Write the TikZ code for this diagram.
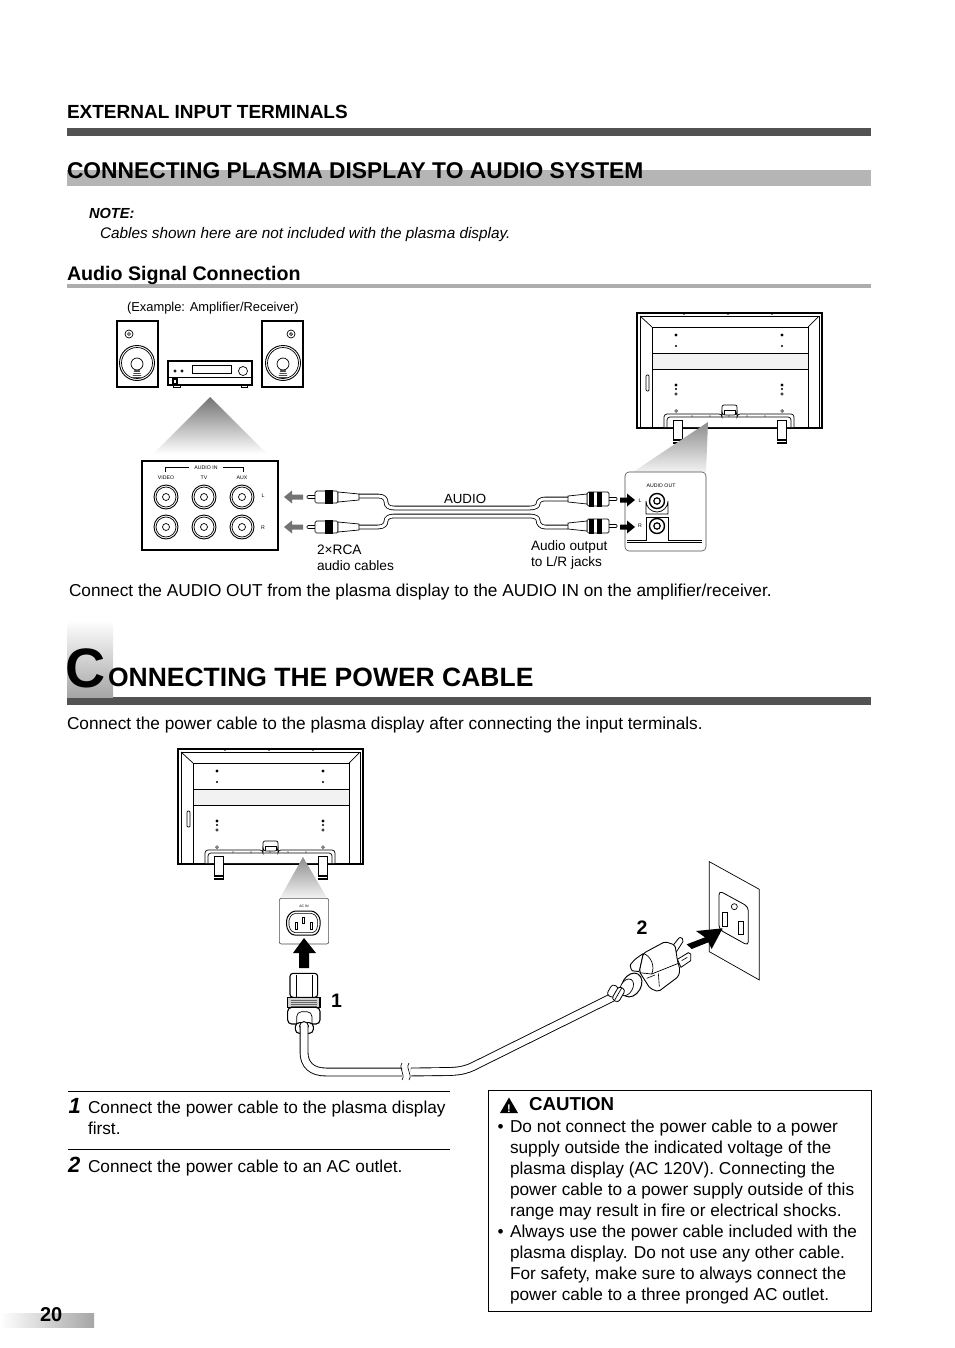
\documentclass[tikz,border=0pt]{standalone}
\usepackage{fontspec}
\setmainfont{Liberation Sans}
\usetikzlibrary{shadings}
\definecolor{bardark}{gray}{0.32}
\definecolor{barlight}{gray}{0.71}
\definecolor{barmid}{gray}{0.68}
\tikzset{
 txt/.style={anchor=base west,inner sep=0pt,outer sep=0pt,text=black},
 ln/.style={draw=black,line width=0.7pt},
 thk/.style={draw=black,line width=1.1pt},
 wf/.style={fill=white},
 cablecore/.style={double=white,draw=black,line width=0.8pt,double distance=3pt},
 powercable/.style={double=white,draw=black,line width=0.9pt,double distance=7pt},
}
\newcommand{\tl}[6][]{\node[txt,#1] (#2) at (#3,#4) {\fontsize{#5}{#5}\selectfont #6};}
\newcommand{\dotat}[3]{\fill[black] (#1,#2) circle (#3);}
\newcommand{\ringat}[3]{\draw[line width=0.5pt,fill=white] (#1,#2) circle (#3);}
\newcommand{\tvback}[2]{%
\begin{scope}[shift={(#1,#2)}]
 \draw[thk,fill=white] (0,0) rectangle (185,115);
 \draw[ln] (3,3) rectangle (182,114);
 \draw[ln] (15,14) -- (15,114);
 \draw[ln] (171,14) -- (171,114);
 \draw[ln] (15,14) -- (171,14);
 \draw[ln] (3,3) -- (15,14);
 \draw[ln] (182,3) -- (171,14);
 \draw[ln,fill=black!5] (15,40) rectangle (171,56);
 \draw[ln,rounded corners=1pt] (9,62) rectangle (12,78);
 \foreach \sx in {39,145}{
  \dotat{\sx}{22}{1.6}\dotat{\sx}{33}{1.1}\dotat{\sx}{72}{1.6}\dotat{\sx}{76}{1.1}
  \ringat{\sx}{81}{1.3}\ringat{\sx}{98}{1.4}}
 \foreach \sx in {47,91,135}{\fill (\sx,1) circle (0.8);}
 \draw[ln,fill=white,rounded corners=2pt] (85,102) -- (85,92) -- (100,92) -- (100,102);
 \draw[ln] (87,102) -- (87,97) -- (98,97) -- (98,102);
 \draw[ln,fill=white,rounded corners=3pt] (27,114) -- (27,101) -- (85,101) -- (85,102) -- (100,102) -- (100,101) -- (157,101) -- (157,114);
 \draw[ln,rounded corners=3pt] (30,114) -- (30,104) -- (154,104) -- (154,114);
 \foreach \sx in {55,73,92,110,128}{\fill (\sx,103) circle (0.7);}
 \foreach \sx in {36,140}{
  \draw[ln,fill=white] (\sx,107) rectangle (\sx+9,126);
  \fill[black] (\sx-0.5,126) rectangle (\sx+9.5,131);
  \draw[white,line width=0.5pt] (\sx,128) -- (\sx+9,128);}
\end{scope}}
\newcommand{\speaker}[4]{%
 \draw[thk,fill=white] (#1,321) rectangle (#2,387);
 \draw[ln] (#3,334) circle (4); \draw[ln] (#3,334) circle (1.5);
 \draw[line width=0.9pt] (#4,363) circle (17.5); \draw[ln] (#4,363) circle (15.5);
 \draw[ln] (#4,364) circle (6);
 \fill[black!70] (#4-2.5,370) -- (#4+2.5,370) -- (#4+5,378) -- (#4-5,378) -- cycle;
 \foreach \yy in {372,374,376}{\draw[white,line width=0.4pt] (#4-5,\yy) -- (#4+5,\yy);}
}
\newcommand{\jackin}[2]{%
 \draw[line width=0.9pt] (#1,#2) circle (12);
 \draw[ln] (#1,#2) circle (10);
 \draw[ln] (#1,#2) circle (3.5);
}
\newcommand{\plugL}[2]{%
\begin{scope}[shift={(#1,#2)}]
 \draw[ln,fill=white,rounded corners=1pt] (0,-1.5) rectangle (9,1.5);
 \draw[ln,fill=white,rounded corners=1.5pt] (8,-6) rectangle (31,6);
 \fill[black] (18,-7) rectangle (26,7);
 \draw[ln,fill=white] (31,-5) -- (52,-3) -- (52,3) -- (31,5) -- cycle;
\end{scope}}
\newcommand{\plugR}[2]{%
\begin{scope}[shift={(#1,#2)}]
 \draw[ln,fill=white,rounded corners=1pt] (0,-1.5) rectangle (-10,1.5);
 \draw[ln,fill=white,rounded corners=1.5pt] (-8,-7) rectangle (-30,7);
 \fill[black] (-15,-7.5) rectangle (-20,7.5);
 \fill[black] (-23,-7.5) rectangle (-28,7.5);
 \draw[ln,fill=white] (-30,-5) -- (-49,-3) -- (-49,3) -- (-30,5) -- cycle;
\end{scope}}
% arrow: tail x, y, colour, total length (pointing to larger x)
\newcommand{\fatarrow}[4]{\fill[#3] (#1,#2-2.5) -- (#1+#4-8,#2-2.5) -- (#1+#4-8,#2-6.5) -- (#1+#4,#2) -- (#1+#4-8,#2+6.5) -- (#1+#4-8,#2+2.5) -- (#1,#2+2.5) -- cycle;}
\begin{document}
\begin{tikzpicture}[x=1pt,y=-1pt]
\useasboundingbox (0,0) rectangle (954,1348);
\fill[white] (0,0) rectangle (954,1348);
% header bars
\fill[bardark] (67,128) rectangle (871,136);
\fill[barlight] (67,170) rectangle (871,186);
\fill[barmid] (67,284) rectangle (871,288);
\fill[bardark] (67,697) rectangle (871,705);
\tl{h1}{67}{119}{19}{\bfseries EXTERNAL INPUT TERMINALS}
\tl{h2}{67}{178.5}{22.8}{\bfseries CONNECTING PLASMA DISPLAY TO AUDIO SYSTEM}
\tl{note}{89}{219}{14.6}{\bfseries\itshape NOTE:}
\tl{note2}{100}{239}{15.33}{\itshape Cables shown here are not included with the plasma display.}
\tl{h3}{67}{280}{19.65}{\bfseries Audio Signal Connection}
% top left equipment
\tl{ex}{127}{311}{12.9}{(Example: Amplifier/Receiver)}
\speaker{117}{158}{129}{137}
\speaker{262}{303}{291}{283}
\draw[thk,fill=white] (168,361) rectangle (252,385);
\draw[ln] (168,377) -- (252,377);
\draw[ln] (173,385) rectangle (180,387);
\draw[ln] (241,385) rectangle (247,387);
\draw[ln] (192,365) rectangle (231,373);
\draw[ln] (243,371) circle (4.5);
\draw[ln] (175,371) circle (1.2);
\draw[ln] (182,371) circle (1.2);
\draw[thk] (173,379) rectangle (177,384);
\shade[top color=black!55,bottom color=white] (210,397) -- (267,454) -- (153,454) -- cycle;
% audio in panel
\draw[thk,fill=white] (142,461) rectangle (278,550);
\tl[anchor=base]{ai}{206}{469}{5.2}{AUDIO IN}
\draw[ln] (165,472) -- (165,467) -- (189,467);
\draw[ln] (223,467) -- (243,467) -- (243,472);
\tl[anchor=base]{vid}{166}{479}{5.2}{VIDEO}
\tl[anchor=base]{tv}{204}{479}{5.2}{TV}
\tl[anchor=base]{aux}{242}{479}{5.2}{AUX}
\tl[anchor=base]{jl}{263}{497}{5.2}{L}
\tl[anchor=base]{jr}{263}{529}{5.2}{R}
\foreach \jx in {166,204,242}{\jackin{\jx}{497}\jackin{\jx}{527}}
% cables
\coordinate (cL1) at (359,496); \coordinate (cL2) at (359,527);
\coordinate (cR1) at (568,499); \coordinate (cR2) at (568,527);
\draw[cablecore] (cL1) -- (378,496) .. controls (384,496) and (386,499) .. (386,502) .. controls (386,506) and (389,508) .. (394,508) -- (530,508) .. controls (535,508) and (538,506) .. (538,504) .. controls (538,501) and (541,499) .. (545,499) -- (cR1);
\draw[cablecore] (cL2) -- (378,527) .. controls (384,527) and (386,524) .. (386,521) .. controls (386,518) and (389,516) .. (394,516) -- (530,516) .. controls (535,516) and (538,518) .. (538,520) .. controls (538,524) and (541,527) .. (545,527) -- (cR2);
\plugL{307}{497}\plugL{307}{527}
\plugR{617}{499}\plugR{617}{526}
\begin{scope}[shift={(606,0)},xscale=-1]\fatarrow{303}{497}{black!55}{19}\end{scope}
\begin{scope}[shift={(606,0)},xscale=-1]\fatarrow{303}{527}{black!55}{19}\end{scope}
\tl{audio}{444}{503}{13.3}{AUDIO}
\tl{rca1}{317}{554}{13.7}{2×RCA}
\tl{rca2}{317}{570}{13.7}{audio cables}
\tl{ao1}{531}{550}{13.6}{Audio output}
\tl{ao2}{531}{566}{13.6}{to L/R jacks}
% TV 1
\tvback{637}{313}
\shade[top color=black!45,bottom color=black!5] (708,422) -- (706,472) -- (633,472) -- cycle;
\draw[line width=0.6pt,black!70,fill=white,rounded corners=4pt] (625,472) rectangle (706,551);
\tl[anchor=base]{aout}{661}{487}{5.2}{AUDIO OUT}
\draw[ln] (646,514) -- (646,501) arc (180:0:11) -- (668,514) -- cycle;
\draw[ln] (646,517) -- (668,517);
\draw[ln] (646,517) -- (646,540) -- (627,540);
\draw[ln] (668,517) -- (668,540) -- (702,540);
\draw[ln] (627,542.5) -- (702,542.5);
\draw[line width=1.4pt] (657,501) circle (7.5);
\draw[line width=1.2pt] (657,501) circle (3.2);
\draw[line width=1.4pt] (657,526) circle (7.5);
\draw[line width=1.2pt] (657,526) circle (3.2);
\tl[anchor=base]{ol}{640}{502}{5.2}{L}
\tl[anchor=base]{or}{640}{527}{5.2}{R}
\fatarrow{620}{500}{black}{15}
\fatarrow{620}{527}{black}{15}
\tl{p1}{69}{596}{17.25}{Connect the AUDIO OUT from the plasma display to the AUDIO IN on the amplifier/receiver.}
% big C
\shade[top color=white,bottom color=black!35] (67,620) rectangle (113,697);
\tl{bigC}{65.5}{687}{55.5}{\bfseries C}
\tl{onn}{108}{686.5}{26.5}{\bfseries ONNECTING THE POWER CABLE}
\tl{p2}{67}{729}{17.25}{Connect the power cable to the plasma display after connecting the input terminals.}
% TV 2
\tvback{178}{749}
\shade[top color=black!45,bottom color=black!5] (303,857) -- (327,898) -- (280,898) -- cycle;
\begin{scope}[shift={(170,740)},scale=1/3]
 \draw[line width=0.6pt,black!70,fill=white,rounded corners=2pt] (328,475) rectangle (476,612);
 \draw[line width=1pt,rounded corners=3pt] (368,513) -- (432,513) -- (450,532) -- (450,565) -- (438,585) -- (365,585) -- (350,565) -- (350,532) -- cycle;
 \draw[line width=0.6pt,rounded corners=2pt] (370,520) -- (430,520) -- (443,535) -- (443,562) -- (434,578) -- (369,578) -- (357,562) -- (357,535) -- cycle;
 \draw[ln] (375,548) rectangle (381,568);
 \draw[ln] (397,532) rectangle (403,550);
 \draw[ln] (421,548) rectangle (427,568);
\end{scope}
\tl[anchor=base]{acin}{304}{907}{3.5}{AC IN}
\fill[black] (304,938) -- (316,953) -- (309,953) -- (309,968) -- (299,968) -- (299,953) -- (293,953) -- cycle;
% IEC connector
\begin{scope}[shift={(170,740)},scale=1/3]
 \draw[thk,fill=white,rounded corners=3pt] (360,772) -- (360,700) -- (443,700) -- (443,772) -- cycle;
 \draw[ln] (378,704) -- (378,770);
 \draw[ln] (428,704) -- (428,770);
 \draw[thk,fill=black!18] (353,772) rectangle (450,802);
 \foreach \yy in {780,786,792,798}{\draw[line width=0.4pt,black!60] (362,\yy) -- (442,\yy);}
 \draw[thk,fill=white,rounded corners=4pt] (353,802) -- (353,852) -- (450,852) -- (450,802) -- cycle;
 \draw[ln,rounded corners=5pt] (380,852) -- (380,815) -- (426,815) -- (426,852);
 \draw[thk,fill=white,rounded corners=4pt] (376,880) rectangle (430,848);
\end{scope}
% power cable
\coordinate (pwA) at (304,1026);
\coordinate (pwB) at (402,1072);
\coordinate (pwC) at (411,1072);
\coordinate (pwD) at (613,997);
\draw[line width=0.9pt,fill=white] (pwA) circle (4.4);
\draw[powercable] (pwA) -- (304,1052) .. controls (304,1065) and (312,1072) .. (326,1072) -- (pwB);
\draw[powercable] (pwC) -- (450,1071.5) .. controls (460,1071) and (466,1070) .. (474,1066) -- (pwD);
\draw[line width=0.6pt] (402,1063) .. controls (398,1069) and (406,1074) .. (402,1080);
\draw[line width=0.6pt] (409,1063) .. controls (405,1069) and (413,1074) .. (409,1080);
\begin{scope}[shift={(400,850)},scale=1/3]
 % wall plate
 \draw[line width=0.7pt,fill=white] (928,35) -- (1078,118) -- (1078,390) -- (928,305) -- cycle;
 \draw[line width=0.8pt,rounded corners=4pt] (957,122) -- (1045,170) -- (1045,287) -- (957,238) -- cycle;
 \draw[line width=0.7pt] (1003,170) circle (9);
 \draw[line width=0.8pt] (968,187) rectangle (983,228);
 \draw[line width=0.8pt] (1016,213) rectangle (1031,252);
 % plug prongs
 \draw[line width=0.8pt,fill=white,rounded corners=2pt] (812,295) -- (840,260) -- (852,270) -- (825,312) -- cycle;
 \draw[line width=0.8pt,fill=white] (832,328) -- (865,308) -- (872,312) -- (872,332) -- (843,352) -- cycle;
 \draw[line width=0.6pt] (845,332) -- (862,322);
 % plug fin and body
 \draw[line width=0.9pt,fill=white,rounded corners=1pt] (690,345) -- (705,328) -- (730,310) -- (718,365) -- (695,362) -- cycle;
 \draw[line width=0.9pt,fill=white,rounded corners=2pt] (730,310) -- (795,275) -- (825,285) -- (832,330) -- (840,360) -- (835,380) -- (775,425) -- (750,415) -- (718,365) -- cycle;
 \draw[line width=0.7pt] (730,310) .. controls (755,320) and (765,350) .. (755,372);
 \draw[line width=0.7pt] (718,368) -- (755,372) -- (835,340);
 \draw[line width=0.6pt] (740,385) -- (765,375) (775,370) -- (778,410);
 % collar
 \draw[line width=1pt,fill=white,rotate around={-30:(695,405)}] (695,405) ellipse (28 and 38);
 \draw[line width=0.7pt,fill=white,rotate around={-30:(680,412)}] (680,412) ellipse (18 and 27);
 % strain relief
 \draw[line width=0.8pt,fill=white,rotate around={-30:(650,430)},rounded corners=3pt] (625,412) rectangle (648,448);
 \draw[line width=0.8pt,fill=white,rotate around={-30:(650,430)},rounded corners=3pt] (645,408) rectangle (668,452);
 \draw[line width=0.7pt,rotate around={-30:(650,430)}] (655,408) -- (655,452);
 % arrow to outlet
 \fill[black] (860,283) -- (915,262) -- (888,243) -- (968,235) -- (935,297) -- (925,277) -- (875,297) -- cycle;
\end{scope}
\tl[anchor=base]{n1}{336.5}{1007}{19.5}{\bfseries 1}
\tl[anchor=base]{n2}{642}{934}{19.5}{\bfseries 2}
% steps
\draw[line width=0.7pt] (68,1091) coordinate (sa) -- (450,1091) coordinate (sb);
\draw[line width=0.7pt] (68,1149) coordinate (sc) -- (450,1149) coordinate (sd);
\tl{s1}{68.5}{1113}{22}{\bfseries\itshape 1}
\tl{s1a}{88}{1113}{17.25}{Connect the power cable to the plasma display}
\tl{s1b}{88}{1134}{17.25}{first.}
\tl{s2}{68}{1172}{22}{\bfseries\itshape 2}
\tl{s2a}{88}{1172}{17.25}{Connect the power cable to an AC outlet.}
% caution
\draw[line width=0.7pt,fill=white] (488,1090) rectangle (871,1311);
\fill[black] (509,1097.5) -- (518,1113) -- (500,1113) -- cycle;
\tl[anchor=base,text=white]{excl}{509}{1112}{11}{\bfseries !}
\tl{cau}{529}{1110}{18.7}{\bfseries CAUTION}
\tl{b1}{497.5}{1132}{17.25}{•}
\tl{c1}{510}{1132}{17.25}{Do not connect the power cable to a power}
\tl{c2}{510}{1153}{17.25}{supply outside the indicated voltage of the}
\tl{c3}{510}{1174}{17.25}{plasma display (AC 120V). Connecting the}
\tl{c4}{510}{1195}{17.25}{power cable to a power supply outside of this}
\tl{c5}{510}{1216}{17.25}{range may result in fire or electrical shocks.}
\tl{b2}{497.5}{1237}{17.25}{•}
\tl{c6}{510}{1237}{17.25}{Always use the power cable included with the}
\tl{c7}{510}{1258}{17.25}{plasma display. Do not use any other cable.}
\tl{c8}{510}{1279}{17.25}{For safety, make sure to always connect the}
\tl{c9}{510}{1300}{17.25}{power cable to a three pronged AC outlet.}
% page number
\shade[left color=white,right color=black!35] (0,1313) rectangle (94,1327);
\tl{pg}{40}{1321.5}{20}{\bfseries 20}
\end{tikzpicture}
\end{document}
